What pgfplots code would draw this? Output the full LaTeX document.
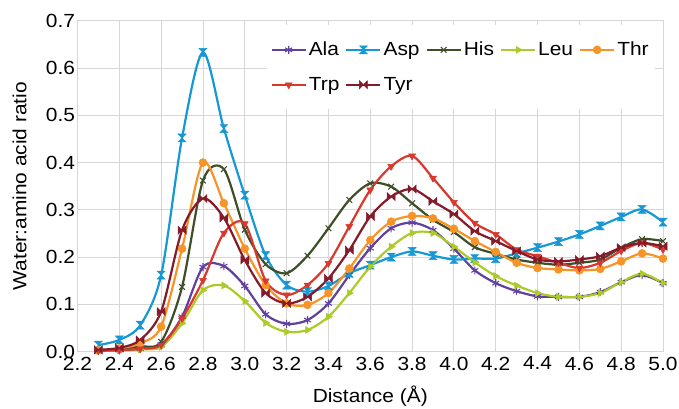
\documentclass[border=0pt]{standalone}
\usepackage{fontspec}
\setmainfont{Liberation Sans}[FakeStretch=1.1]
\usepackage{pgfplots}
\pgfplotsset{compat=1.18}

% hourglass (Asp) and bowtie (Tyr) markers
\pgfdeclareplotmark{hourglass}{%
  \pgfpathmoveto{\pgfqpoint{-\pgfplotmarksize}{\pgfplotmarksize}}%
  \pgfpathlineto{\pgfqpoint{\pgfplotmarksize}{\pgfplotmarksize}}%
  \pgfpathlineto{\pgfqpoint{-\pgfplotmarksize}{-\pgfplotmarksize}}%
  \pgfpathlineto{\pgfqpoint{\pgfplotmarksize}{-\pgfplotmarksize}}%
  \pgfpathclose\pgfusepathqfillstroke}
\pgfdeclareplotmark{bowtie}{%
  \pgfpathmoveto{\pgfqpoint{-\pgfplotmarksize}{\pgfplotmarksize}}%
  \pgfpathlineto{\pgfqpoint{-\pgfplotmarksize}{-\pgfplotmarksize}}%
  \pgfpathlineto{\pgfqpoint{\pgfplotmarksize}{\pgfplotmarksize}}%
  \pgfpathlineto{\pgfqpoint{\pgfplotmarksize}{-\pgfplotmarksize}}%
  \pgfpathclose\pgfusepathqfillstroke}

\definecolor{cAla}{RGB}{98,64,158}
\definecolor{cAsp}{RGB}{22,152,212}
\definecolor{cHis}{RGB}{62,78,40}
\definecolor{cLeu}{RGB}{172,202,42}
\definecolor{cThr}{RGB}{247,148,40}
\definecolor{cTrp}{RGB}{216,56,46}
\definecolor{cTyr}{RGB}{132,26,42}
\definecolor{gridc}{RGB}{214,214,214}

\newcommand{\lblfont}{\fontsize{19}{22}\selectfont}

\begin{document}
\begin{tikzpicture}
\useasboundingbox (-77.5pt,-56.3pt) rectangle (601.5pt,351.7pt);
\begin{axis}[
    scale only axis,
    width=585.5pt, height=331pt,
    xmin=2.2, xmax=5.0, ymin=0, ymax=0.7,
    xtick={2.2,2.4,...,5.01},
    ytick={0,0.1,...,0.71},
    grid=major,
    major grid style={gridc, line width=0.8pt},
    axis line style={gridc, line width=0.8pt},
    major tick length=0pt,
    tick label style={font=\lblfont},
    xticklabel style={yshift=-1.5pt},
    yticklabel style={xshift=1pt},
    /pgf/number format/assume math mode=true,
    xticklabel={\pgfmathprintnumber[fixed,fixed zerofill,precision=1]{\tick}},
    yticklabel={\pgfmathprintnumber[fixed,fixed zerofill,precision=1]{\tick}},
    xlabel={Distance (Å)},
    ylabel={Water:amino acid ratio},
    every axis x label/.style={at={(axis description cs:0.5,0)}, yshift=-44pt,
        anchor=center, font=\lblfont},
    every axis y label/.style={at={(axis description cs:0,0.5)}, xshift=-58pt,
        rotate=90, anchor=center, font=\lblfont},
    legend columns=5,
    legend style={at={(0.986,0.987)}, anchor=north east, draw=none, fill=white,
        font=\lblfont, inner xsep=4pt, inner ysep=15pt,
        /tikz/every even column/.append style={column sep=4pt},
        row sep=16pt},
    legend cell align=left,
    legend image code/.code={\draw[mark repeat=2,mark phase=2] plot coordinates {(0pt,0pt)(17pt,0pt)(34pt,0pt)};},
    every axis plot/.append style={line width=2.2pt, smooth, mark size=4pt},
]
\addplot[cAla, mark=asterisk, mark options={line width=1.1pt}] coordinates {
(2.3,0.002)(2.4,0.004)(2.5,0.006)(2.6,0.015)(2.7,0.074)(2.8,0.179)(2.9,0.181)
(3.0,0.139)(3.1,0.079)(3.2,0.059)(3.3,0.067)(3.4,0.102)(3.5,0.162)(3.6,0.219)
(3.7,0.261)(3.8,0.273)(3.9,0.257)(4.0,0.218)(4.1,0.172)(4.2,0.145)(4.3,0.128)
(4.4,0.117)(4.5,0.116)(4.6,0.116)(4.7,0.126)(4.8,0.147)(4.9,0.162)(5.0,0.145)};
\addplot[cAsp, mark=hourglass, mark options={line width=0.5pt, fill=cAsp}] coordinates {
(2.3,0.014)(2.4,0.025)(2.5,0.056)(2.6,0.162)(2.7,0.452)(2.8,0.633)(2.9,0.472)
(3.0,0.331)(3.1,0.203)(3.2,0.141)(3.3,0.127)(3.4,0.139)(3.5,0.166)(3.6,0.183)
(3.7,0.200)(3.8,0.212)(3.9,0.203)(4.0,0.195)(4.1,0.197)(4.2,0.197)(4.3,0.208)
(4.4,0.220)(4.5,0.233)(4.6,0.248)(4.7,0.266)(4.8,0.285)(4.9,0.301)(5.0,0.274)};
\addplot[cHis, mark=x, mark options={line width=1.1pt}] coordinates {
(2.3,0.002)(2.4,0.005)(2.5,0.011)(2.6,0.021)(2.7,0.137)(2.8,0.362)(2.9,0.386)
(3.0,0.258)(3.1,0.185)(3.2,0.166)(3.3,0.203)(3.4,0.261)(3.5,0.321)(3.6,0.356)
(3.7,0.349)(3.8,0.314)(3.9,0.279)(4.0,0.253)(4.1,0.221)(4.2,0.207)(4.3,0.195)
(4.4,0.188)(4.5,0.184)(4.6,0.188)(4.7,0.195)(4.8,0.220)(4.9,0.238)(5.0,0.234)};
\addplot[cLeu, mark=triangle*, mark options={rotate=-90, line width=0.5pt, fill=cLeu}] coordinates {
(2.3,0.002)(2.4,0.003)(2.5,0.005)(2.6,0.010)(2.7,0.060)(2.8,0.130)(2.9,0.140)
(3.0,0.107)(3.1,0.061)(3.2,0.042)(3.3,0.046)(3.4,0.074)(3.5,0.124)(3.6,0.180)
(3.7,0.222)(3.8,0.251)(3.9,0.251)(4.0,0.222)(4.1,0.189)(4.2,0.160)(4.3,0.140)
(4.4,0.124)(4.5,0.116)(4.6,0.116)(4.7,0.124)(4.8,0.147)(4.9,0.165)(5.0,0.145)};
\addplot[cThr, mark=*, mark options={line width=0.5pt, fill=cThr}] coordinates {
(2.3,0.003)(2.4,0.007)(2.5,0.018)(2.6,0.053)(2.7,0.218)(2.8,0.400)(2.9,0.314)
(3.0,0.218)(3.1,0.141)(3.2,0.102)(3.3,0.099)(3.4,0.124)(3.5,0.176)(3.6,0.236)
(3.7,0.275)(3.8,0.287)(3.9,0.282)(4.0,0.260)(4.1,0.234)(4.2,0.211)(4.3,0.188)
(4.4,0.177)(4.5,0.174)(4.6,0.172)(4.7,0.175)(4.8,0.191)(4.9,0.208)(5.0,0.197)};
\addplot[cTrp, mark=triangle*, mark options={rotate=180, line width=0.5pt, fill=cTrp}] coordinates {
(2.3,0.002)(2.4,0.003)(2.5,0.006)(2.6,0.014)(2.7,0.070)(2.8,0.151)(2.9,0.251)
(3.0,0.271)(3.1,0.150)(3.2,0.120)(3.3,0.141)(3.4,0.187)(3.5,0.265)(3.6,0.342)
(3.7,0.392)(3.8,0.414)(3.9,0.367)(4.0,0.316)(4.1,0.272)(4.2,0.248)(4.3,0.216)
(4.4,0.202)(4.5,0.188)(4.6,0.177)(4.7,0.188)(4.8,0.213)(4.9,0.230)(5.0,0.216)};
\addplot[cTyr, mark=bowtie, mark options={line width=0.5pt, fill=cTyr}] coordinates {
(2.3,0.004)(2.4,0.008)(2.5,0.025)(2.6,0.085)(2.7,0.257)(2.8,0.324)(2.9,0.283)
(3.0,0.194)(3.1,0.124)(3.2,0.102)(3.3,0.116)(3.4,0.155)(3.5,0.215)(3.6,0.286)
(3.7,0.328)(3.8,0.344)(3.9,0.318)(4.0,0.291)(4.1,0.255)(4.2,0.234)(4.3,0.213)
(4.4,0.195)(4.5,0.191)(4.6,0.195)(4.7,0.202)(4.8,0.220)(4.9,0.230)(5.0,0.223)};
\legend{Ala,Asp,His,Leu,Thr,Trp,Tyr}
\end{axis}
\end{tikzpicture}
\end{document}
